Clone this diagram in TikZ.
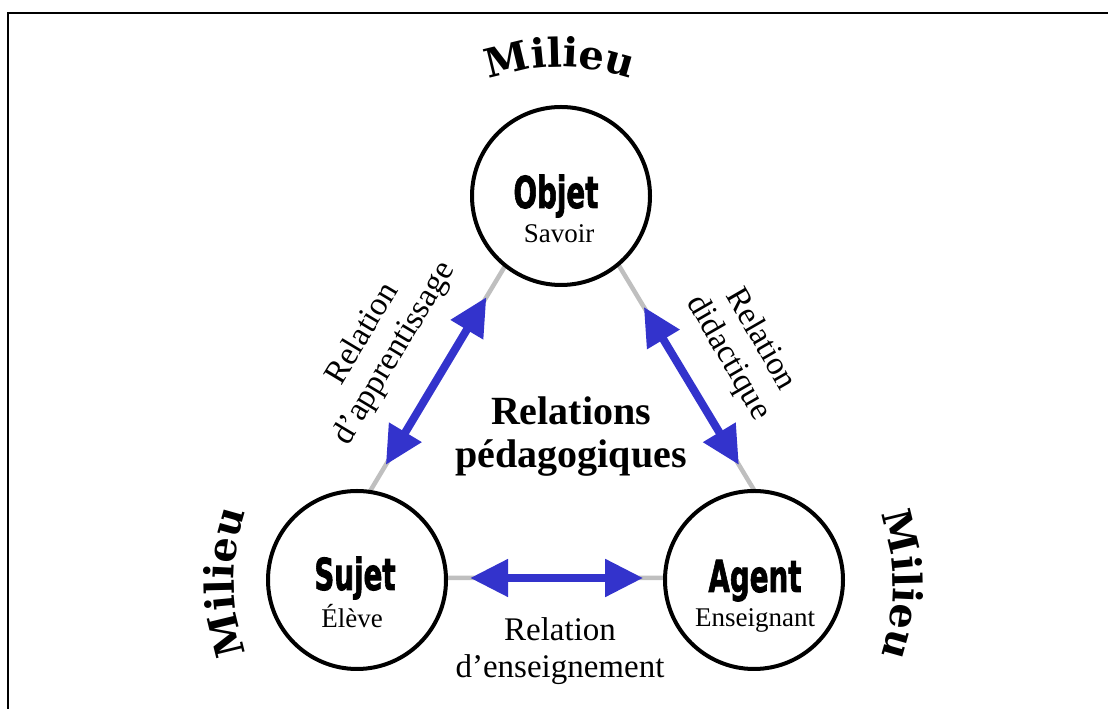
\documentclass[tikz,border=0pt]{standalone}
\usepackage{fontspec}
\usepackage{graphicx}
\setmainfont{Liberation Serif}
\newfontfamily\impactfont{DejaVu Sans}[BoldFeatures={FakeBold=2}]
\newfontfamily\bookfont{DejaVu Serif}
\usetikzlibrary{arrows.meta,calc,decorations.text}
\definecolor{relblue}{RGB}{51,51,204}
\definecolor{linegray}{RGB}{191,191,191}
\newcommand\milieufont{\bookfont\bfseries\fontsize{40bp}{44bp}\selectfont}
\newcommand\pname[1]{\scalebox{0.63}[1]{#1}}
\tikzset{
  pole/.style={circle, draw=black, line width=4bp, fill=white, minimum size=178bp, inner sep=0pt},
  polename/.style={anchor=base, inner sep=0pt, font=\impactfont\bfseries\fontsize{44bp}{46bp}\selectfont},
  polesub/.style={anchor=base, inner sep=0pt, font=\fontsize{27bp}{30bp}\selectfont},
  triline/.style={draw=linegray, line width=4.5bp},
  relarrow/.style={draw=relblue, line width=8bp, {Triangle[length=38bp,width=36bp]}-{Triangle[length=38bp,width=36bp]}},
  rellabel/.style={align=center, inner sep=0pt, font=\fontsize{33bp}{37bp}\selectfont},
  centrallabel/.style={align=center, inner sep=0pt, font=\bfseries\fontsize{40bp}{43bp}\selectfont},
  milieu/.style={decorate, decoration={text along path, text align=center, text={|\milieufont|Milieu}}},
  frameline/.style={draw=black, line width=2.5bp}
}
\begin{document}
\begin{tikzpicture}[x=1bp,y=1bp]
\useasboundingbox (0,0) rectangle (1108,709);
\draw[frameline] (7.8,0) |- (1108,696);
% triangle vertices
\coordinate (Op) at (562,538);
\coordinate (Sp) at (318,131);
\coordinate (Ap) at (807,131);
\draw[triline] (Sp) -- (Op) -- (Ap) -- cycle;
% poles
\node[pole] (O) at (561,513) {};
\node[pole] (S) at (357,129) {};
\node[pole] (A) at (754,129) {};
\node[polename] (On) at (556,501) {\pname{Objet}};
\node[polesub] (Os) at (559,466) {Savoir};
\node[polename] (Sn) at (355,119) {\pname{Sujet}};
\node[polesub] (Ss) at (352,81) {Élève};
\node[polename] (An) at (755,117) {\pname{Agent}};
\node[polesub] (As) at (755,82) {Enseignant};
% arrows
\coordinate (l1) at ($(Sp)!0.278!(Op)$);
\coordinate (l2) at ($(Sp)!0.690!(Op)$);
\coordinate (r1) at ($(Ap)!0.278!(Op)$);
\coordinate (r2) at ($(Ap)!0.666!(Op)$);
\coordinate (b1) at ($(Sp)!0.311!(Ap)$);
\coordinate (b2) at ($(Sp)!0.665!(Ap)$);
\draw[relarrow] (l1) -- (l2);
\draw[relarrow] (r1) -- (r2);
\draw[relarrow] (b1) -- (b2);
% labels
\node[rellabel, rotate=59] (ll) at (379,365) {Relation\\d’apprentissage};
\node[rellabel, rotate=-60] (rl) at (744,360) {Relation\\didactique};
\node[rellabel] (bl) at (560,58) {Relation\\d’enseignement};
\node[centrallabel] (cl) at (571,272) {Relations\\pédagogiques};
% Milieu
\path[milieu] (560,432) ++(120:210) arc[start angle=120, end angle=60, radius=210];
\path[milieu] (444,127) ++(210:210) arc[start angle=210, end angle=150, radius=210];
\path[milieu] (683,124) ++(30:210) arc[start angle=30, end angle=-30, radius=210];
\end{tikzpicture}
\end{document}
